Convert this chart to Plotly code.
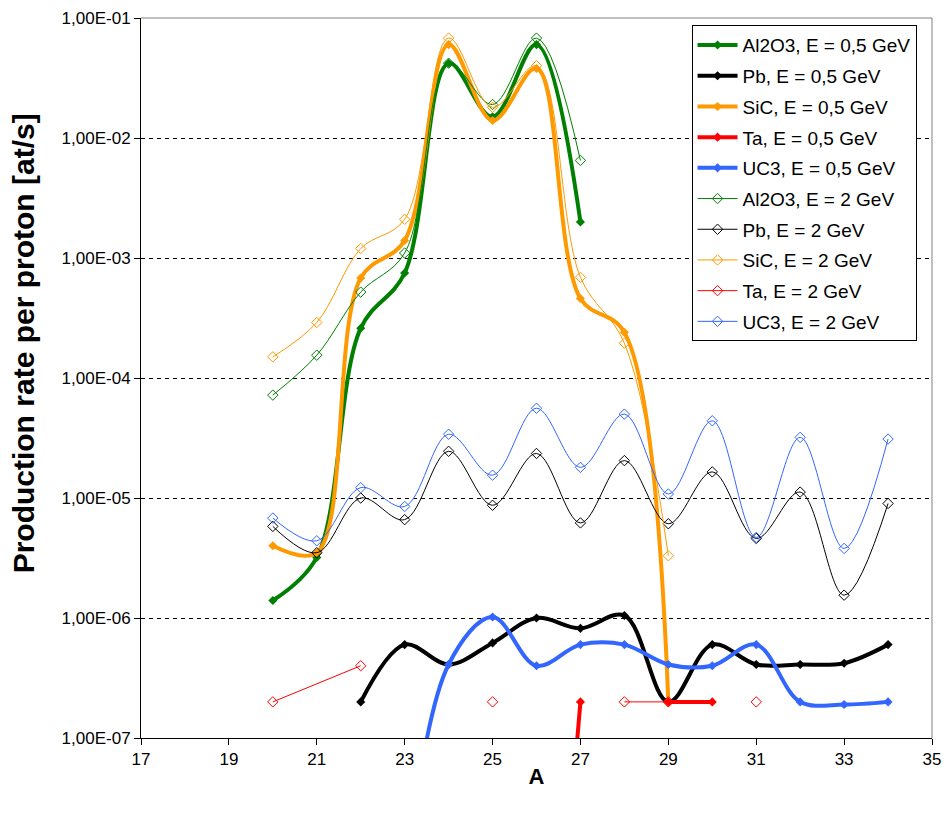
import plotly.graph_objects as go

# ---------------- data ----------------
A_al2o3_05 = [20, 21, 22, 23, 24, 25, 26, 27]
al2o3_05 = [1.4e-6, 3.2e-6, 2.6e-4, 7.5e-4, 4.2e-2, 1.5e-2, 6.0e-2, 2.0e-3]

A_pb_05 = [22, 23, 24, 25, 26, 27, 28, 29, 30, 31, 32, 33, 34]
pb_05 = [2.0e-7, 6.0e-7, 4.1e-7, 6.2e-7, 1.0e-6, 8.2e-7, 1.05e-6, 2.0e-7, 6.0e-7, 4.1e-7, 4.1e-7, 4.2e-7, 6.0e-7]

A_sic_05 = [20, 21, 22, 23, 24, 25, 26, 27, 28, 29]
sic_05 = [4.0e-6, 3.5e-6, 6.8e-4, 1.4e-3, 6.0e-2, 1.4e-2, 3.8e-2, 4.6e-4, 2.4e-4, 2.0e-7]

A_ta_05 = [26, 27, 28, 29, 30]
ta_05 = [1.0e-11, 2.0e-7, None, 2.0e-7, 2.0e-7]

A_uc3_05 = [23, 24, 25, 26, 27, 28, 29, 30, 31, 32, 33, 34]
uc3_05 = [6.0e-9, 4.1e-7, 1.02e-6, 4.0e-7, 6.0e-7, 6.0e-7, 4.1e-7, 4.0e-7, 6.0e-7, 2.0e-7, 1.9e-7, 2.0e-7]

A_al2o3_2 = [20, 21, 22, 23, 24, 25, 26, 27]
al2o3_2 = [7.2e-5, 1.55e-4, 5.2e-4, 1.1e-3, 4.2e-2, 1.9e-2, 6.8e-2, 6.5e-3]

A_pb_2 = [20, 21, 22, 23, 24, 25, 26, 27, 28, 29, 30, 31, 32, 33, 34]
pb_2 = [5.8e-6, 3.5e-6, 1.0e-5, 6.6e-6, 2.45e-5, 8.7e-6, 2.35e-5, 6.2e-6, 2.05e-5, 6.1e-6, 1.65e-5, 4.6e-6, 1.12e-5, 1.55e-6, 9.0e-6]

A_sic_2 = [20, 21, 22, 23, 24, 25, 26, 27, 28, 29]
sic_2 = [1.5e-4, 2.9e-4, 1.2e-3, 2.1e-3, 6.8e-2, 1.8e-2, 4.0e-2, 6.9e-4, 1.95e-4, 3.3e-6]

A_ta_2 = [20, 22, 23, 25, 26, 28, 29, 30, 31]
ta_2 = [2.0e-7, 4.0e-7, None, 2.0e-7, None, 2.0e-7, 2.0e-7, None, 2.0e-7]

A_uc3_2 = [20, 21, 22, 23, 24, 25, 26, 27, 28, 29, 30, 31, 32, 33, 34]
uc3_2 = [6.8e-6, 4.4e-6, 1.22e-5, 8.5e-6, 3.4e-5, 1.55e-5, 5.6e-5, 1.8e-5, 5.0e-5, 1.08e-5, 4.4e-5, 4.7e-6, 3.2e-5, 3.8e-6, 3.1e-5]

y_tickvals = [1e-7, 1e-6, 1e-5, 1e-4, 1e-3, 1e-2, 1e-1]
y_ticktext = ["1,00E-07", "1,00E-06", "1,00E-05", "1,00E-04", "1,00E-03", "1,00E-02", "1,00E-01"]
x_tickvals = [17, 19, 21, 23, 25, 27, 29, 31, 33, 35]

GREEN, BLACK, ORANGE, RED, BLUE = "#008000", "#000000", "#FF9900", "#FF0000", "#3366FF"

series = [
    ("Al2O3, E = 0,5 GeV", A_al2o3_05, al2o3_05, GREEN, True),
    ("Pb, E = 0,5 GeV", A_pb_05, pb_05, BLACK, True),
    ("SiC, E = 0,5 GeV", A_sic_05, sic_05, ORANGE, True),
    ("Ta, E = 0,5 GeV", A_ta_05, ta_05, RED, True),
    ("UC3, E = 0,5 GeV", A_uc3_05, uc3_05, BLUE, True),
    ("Al2O3, E = 2 GeV", A_al2o3_2, al2o3_2, GREEN, False),
    ("Pb, E = 2 GeV", A_pb_2, pb_2, BLACK, False),
    ("SiC, E = 2 GeV", A_sic_2, sic_2, ORANGE, False),
    ("Ta, E = 2 GeV", A_ta_2, ta_2, RED, False),
    ("UC3, E = 2 GeV", A_uc3_2, uc3_2, BLUE, False),
]

fig = go.Figure()
for i, (name, xs, ys, col, thick) in enumerate(series):
    shape = "linear" if name.startswith("Ta") else "spline"
    if thick:
        line = dict(color=col, width=4, shape=shape)
        marker = dict(symbol="diamond", size=7, color=col)
    else:
        line = dict(color=col, width=1, shape=shape)
        marker = dict(symbol="diamond-open", size=8, color=col, line=dict(width=1, color=col))
    fig.add_trace(go.Scatter(
        x=xs, y=ys, name=name, mode="lines+markers",
        line=line, marker=marker, connectgaps=False,
        legendgroup="g%d" % i,
    ))

FONT = "Liberation Sans, Arial, sans-serif"

fig.update_layout(
    width=945, height=818,
    margin=dict(l=141, r=13, t=18, b=80),
    paper_bgcolor="white", plot_bgcolor="white",
    font=dict(family=FONT, size=17, color="black"),
    showlegend=True,
    legend=dict(
        x=0.696, y=0.99, xanchor="left", yanchor="top",
        bgcolor="white", bordercolor="black", borderwidth=1,
        font=dict(family=FONT, size=19, color="black"),
        tracegroupgap=3, traceorder="grouped",
        itemwidth=40,
    ),
    xaxis=dict(
        range=[17, 35], tickvals=x_tickvals, ticks="outside", ticklen=6,
        tickcolor="black", showline=True, linecolor="black", linewidth=1,
        showgrid=False, zeroline=False, automargin=False,
        tickfont=dict(family=FONT, size=17, color="black"),
        title=dict(text="<b>A</b>", font=dict(family=FONT, size=22, color="black"), standoff=0),
    ),
    yaxis=dict(
        type="log", range=[-7, -1], tickvals=y_tickvals, ticktext=y_ticktext,
        ticks="outside", ticklen=6, tickcolor="black",
        showline=True, linecolor="black", linewidth=1,
        showgrid=True, gridcolor="black", gridwidth=1, griddash="4px,4px",
        zeroline=False, automargin=False,
        tickfont=dict(family=FONT, size=17, color="black"),
    ),
    shapes=[
        dict(type="line", xref="paper", yref="paper", x0=0, x1=1, y0=1, y1=1,
             line=dict(color="#808080", width=1), layer="above"),
        dict(type="line", xref="paper", yref="paper", x0=1, x1=1, y0=0, y1=1,
             line=dict(color="#808080", width=1), layer="above"),
    ],
    annotations=[
        dict(text="<b>Production rate per proton [at/s]</b>", xref="paper", yref="paper",
             x=-0.148, y=0.548, xanchor="center", yanchor="middle", textangle=-90,
             showarrow=False, font=dict(family=FONT, size=30, color="black")),
    ],
)

fig.write_html("out.html", config={"displayModeBar": False},
               post_script="document.body.style.margin='0';")
